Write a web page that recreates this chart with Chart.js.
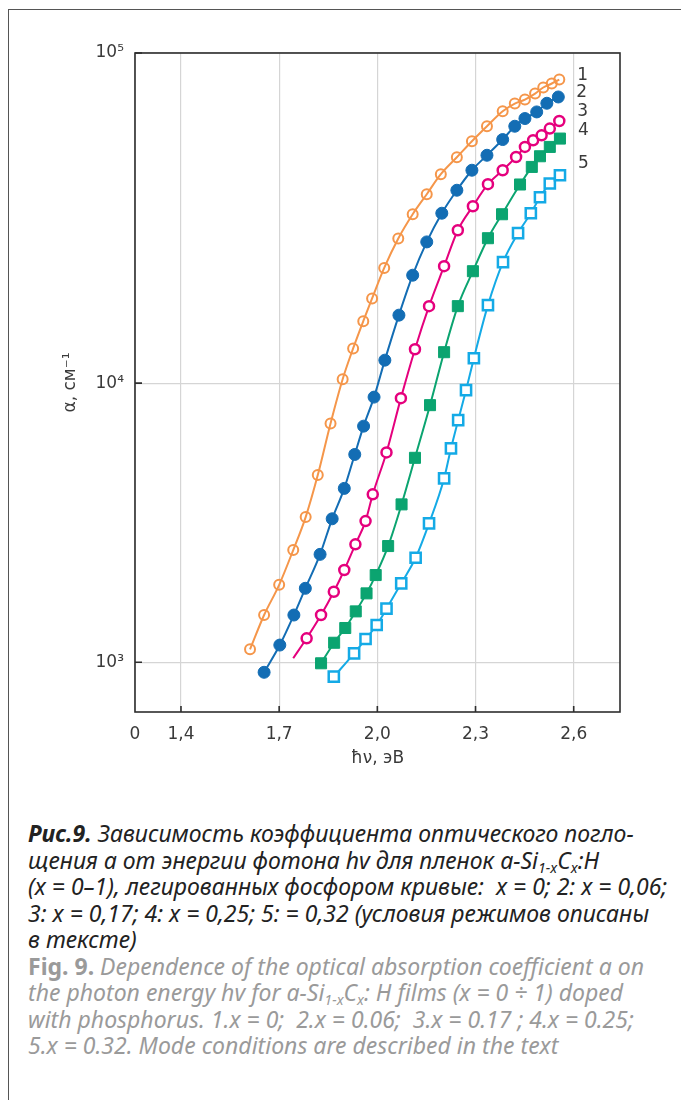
<!DOCTYPE html>
<html>
<head>
<meta charset="utf-8">
<script src="https://cdn.jsdelivr.net/npm/chart.js@4.4.1/dist/chart.umd.min.js"></script>
<style>
  body { margin: 0; background: #fff; }
  #page { position: relative; width: 681px; height: 1100px; overflow: hidden; }
  #frame { position: absolute; left: 8px; top: 9px; width: 800px; height: 1200px;
           border-left: 1.5px solid #555; border-top: 1.5px solid #555; }
  #chartBox { position: absolute; left: 0; top: 0; }
  .caption { position: absolute; left: 28px; top: 820px; width: 650px;
             font-family: "Liberation Sans Narrow", "Noto Sans", sans-serif;
             font-style: italic; font-size: 23px; line-height: 26.5px; color: #222; white-space: nowrap; }
  .caption b { font-weight: bold; }
  .caption .en { color: #9a9a9a; }
  .caption .en b { font-style: normal; }
  .caption sub { font-size: 0.62em; line-height: 0; vertical-align: -0.25em; }
</style>
</head>
<body>
<div id="page">
  <div id="frame"></div>
  <div id="chartBox"><canvas id="absorptionChart" width="681" height="790"></canvas></div>
  <div class="caption">
    <div class="ru"><b>Рис.9.</b> Зависимость коэффициента оптического погло-<br>щения a от энергии фотона hv для пленок a-Si<sub>1-x</sub>C<sub>x</sub>:H<br>(x = 0–1), легированных фосфором кривые:&nbsp; x = 0; 2: x = 0,06;<br>3: x = 0,17; 4: x = 0,25; 5: = 0,32 (условия режимов описаны<br>в тексте)</div>
    <div class="en"><b>Fig. 9.</b> Dependence of the optical absorption coefficient a on<br>the photon energy hv for a-Si<sub>1-x</sub>C<sub>x</sub>: H films (x = 0 ÷ 1) doped<br>with phosphorus. 1.x = 0;&nbsp; 2.x = 0.06;&nbsp; 3.x = 0.17 ; 4.x = 0.25;<br>5.x = 0.32. Mode conditions are described in the text</div>
  </div>
</div>
<script>
// photon energy (eV) and absorption coefficient (cm^-1)
const energy1 = [1.611, 1.654, 1.700, 1.743, 1.781, 1.818, 1.857, 1.894, 1.926, 1.957, 1.984, 2.021, 2.064,
                 2.108, 2.151, 2.194, 2.243, 2.289, 2.335, 2.383, 2.420, 2.451, 2.482, 2.507, 2.533, 2.556];
const alpha1 = [1113, 1477, 1895, 2524, 3313, 4684, 7173, 10280, 12740, 15410, 18050, 22340, 27430,
                32480, 37350, 42940, 48330, 54040, 60000, 66620, 70280, 72260, 75350, 78610, 80840, 83120];

const energy2 = [1.654, 1.702, 1.745, 1.780, 1.825, 1.862, 1.899, 1.931, 1.958, 1.990, 2.023, 2.066,
                 2.108, 2.151, 2.197, 2.243, 2.289, 2.335, 2.383, 2.420, 2.451, 2.487, 2.518, 2.553];
const alpha2 = [921, 1153, 1477, 1841, 2436, 3267, 4198, 5554, 7015, 8912, 11740, 16070,
                21230, 26780, 32710, 38400, 44150, 49010, 54680, 60000, 63310, 66300, 70430, 73590];

const energy3 = [1.743, 1.784, 1.828, 1.867, 1.899, 1.933, 1.964, 1.986, 2.028, 2.072, 2.115, 2.158,
                 2.204, 2.246, 2.292, 2.338, 2.383, 2.424, 2.451, 2.476, 2.502, 2.527, 2.556];
const alpha3 = [1034, 1219, 1477, 1790, 2141, 2646, 3206, 3996, 5648, 8838, 12670, 17110,
                22610, 29050, 34350, 40050, 44150, 48430, 51940, 54420, 56330, 59040, 62250];

const energy4 = [1.828, 1.868, 1.902, 1.934, 1.967, 1.995, 2.033, 2.074, 2.115, 2.161,
                 2.204, 2.246, 2.292, 2.338, 2.381, 2.436, 2.472, 2.497, 2.527, 2.558];
const alpha4 = [992, 1175, 1327, 1522, 1766, 2054, 2609, 3679, 5402, 8341,
                12410, 17110, 21830, 27480, 32480, 39970, 45180, 48670, 51940, 55060];

const energy5 = [1.867, 1.929, 1.964, 1.998, 2.028, 2.073, 2.117, 2.158, 2.204, 2.225,
                 2.247, 2.271, 2.295, 2.338, 2.384, 2.430, 2.469, 2.497, 2.527, 2.558];
const alpha5 = [888, 1077, 1212, 1360, 1556, 1918, 2369, 3147, 4558, 5837,
                7370, 9439, 11900, 17230, 23250, 28460, 32710, 36570, 40240, 42640];

const curveLabels = ['1', '2', '3', '4', '5'];
const xTickValues = [1.4, 1.7, 2.0, 2.3, 2.6];
const xTickLabels = ['1,4', '1,7', '2,0', '2,3', '2,6'];
const xBreakLabel = '0';
const yTickValues = [1e3, 1e4, 1e5];
const yTickLabels = ['10³', '10⁴', '10⁵'];

// axis ranges / layout
const xMin = 1.2595, xMax = 2.7415;
const yMin = Math.pow(10, 2.822), yMax = 1e5;
const tickFont = { family: 'DejaVu Sans', size: 17 };
const textColor = '#3a3a3a';
const gridColor = '#d5d5d5';

// the original y axis is drawn with a longer 10^4..10^5 decade than 10^3..10^4
const dec3 = 0.0754, dec4 = 0.499;
function logToDecimal(L) {
  if (L <= 4) return dec3 + (L - 3) * (dec4 - dec3);
  return dec4 + (L - 4) * (1 - dec4);
}
function decimalToLog(d) {
  if (d <= dec4) return 3 + (d - dec3) / (dec4 - dec3);
  return 4 + (d - dec4) / (1 - dec4);
}
class BrokenLogScale extends Chart.LogarithmicScale {
  getPixelForValue(value) {
    return this.getPixelForDecimal(logToDecimal(Math.log10(value)));
  }
  getValueForPixel(pixel) {
    return Math.pow(10, decimalToLog(this.getDecimalForPixel(pixel)));
  }
}
BrokenLogScale.id = 'brokenLog';
BrokenLogScale.defaults = {};
Chart.register(BrokenLogScale);

function points(xs, ys) {
  return xs.map((x, i) => ({ x: x, y: ys[i] }));
}

const styles = [
  { color: '#f5964a', style: 'circle', radius: 5, fill: 'rgba(255,255,255,0)', bw: 2 },
  { color: '#136db4', style: 'circle', radius: 6, fill: '#136db4', bw: 1 },
  { color: '#e5007d', style: 'circle', radius: 5, fill: '#ffffff', bw: 2.5 },
  { color: '#0ba470', style: 'rect', radius: 7.8, fill: '#0ba470', bw: 1 },
  { color: '#14aae6', style: 'rect', radius: 7.2, fill: '#ffffff', bw: 2.5 }
];
const series = [points(energy1, alpha1), points(energy2, alpha2), points(energy3, alpha3),
                points(energy4, alpha4), points(energy5, alpha5)];

const datasets = series.map((data, i) => {
  const s = styles[i];
  return {
    label: curveLabels[i],
    data: data,
    borderColor: s.color,
    borderWidth: 2,
    cubicInterpolationMode: 'monotone',
    pointStyle: s.style,
    // curve 3 starts with a bare line segment before its first marker
    pointRadius: data.map((p, j) => (i === 2 && j === 0) ? 0 : s.radius),
    pointBackgroundColor: s.fill,
    pointBorderColor: s.color,
    pointBorderWidth: s.bw
  };
});

const framePlugin = {
  id: 'frame',
  afterDraw(chart) {
    const { ctx, chartArea: a, scales } = chart;
    ctx.save();
    ctx.strokeStyle = '#2e2e2e';
    ctx.lineWidth = 1.6;
    ctx.strokeRect(a.left, a.top, a.right - a.left, a.bottom - a.top);
    ctx.beginPath();
    xTickValues.forEach(v => {
      const px = scales.x.getPixelForValue(v);
      ctx.moveTo(px, a.bottom);
      ctx.lineTo(px, a.bottom - 6);
    });
    yTickValues.forEach(v => {
      const py = scales.y.getPixelForValue(v);
      ctx.moveTo(a.left, py);
      ctx.lineTo(a.left + 7, py);
    });
    ctx.stroke();
    ctx.restore();
  }
};

const labelDy = [-4, -4, -9, -8, -12];
const curveLabelPlugin = {
  id: 'curveLabels',
  afterDatasetsDraw(chart) {
    const ctx = chart.ctx;
    ctx.save();
    ctx.font = '17px "DejaVu Sans"';
    ctx.fillStyle = textColor;
    ctx.textBaseline = 'middle';
    chart.data.datasets.forEach((ds, i) => {
      const meta = chart.getDatasetMeta(i);
      const pt = meta.data[meta.data.length - 1];
      ctx.fillText(curveLabels[i], pt.x + 18, pt.y + labelDy[i]);
    });
    ctx.restore();
  }
};

const ctx = document.getElementById('absorptionChart').getContext('2d');
const chart = new Chart(ctx, {
  type: 'line',
  data: { datasets: datasets },
  options: {
    responsive: false,
    animation: false,
    layout: { padding: { top: 53, right: 61, bottom: 0, left: 0 } },
    plugins: { legend: { display: false }, tooltip: { enabled: false } },
    scales: {
      x: {
        type: 'linear',
        min: xMin,
        max: xMax,
        afterBuildTicks: s => { s.ticks = [xMin].concat(xTickValues).map(v => ({ value: v })); },
        afterFit: s => { s.height = 78; },
        ticks: {
          autoSkip: false,
          maxRotation: 0,
          padding: 12,
          font: tickFont,
          color: textColor,
          callback: (v, i) => i === 0 ? xBreakLabel : xTickLabels[i - 1]
        },
        grid: { color: gridColor, lineWidth: 1.2, drawTicks: false },
        border: { display: false },
        title: { display: true, text: 'ħν, эВ', font: tickFont, color: textColor, padding: { top: 0, bottom: 21 } }
      },
      y: {
        type: 'brokenLog',
        min: yMin,
        max: yMax,
        afterBuildTicks: s => { s.ticks = yTickValues.map(v => ({ value: v })); },
        afterFit: s => { s.width = 135; },
        ticks: {
          autoSkip: false,
          padding: 11,
          font: tickFont,
          color: textColor,
          callback: (v, i) => yTickLabels[i]
        },
        grid: { color: gridColor, lineWidth: 1.2, drawTicks: false },
        border: { display: false },
        title: { display: true, text: 'α, см⁻¹', font: tickFont, color: textColor, padding: { top: 60, bottom: 0 } }
      }
    }
  },
  plugins: [framePlugin, curveLabelPlugin]
});
</script>
</body>
</html>
